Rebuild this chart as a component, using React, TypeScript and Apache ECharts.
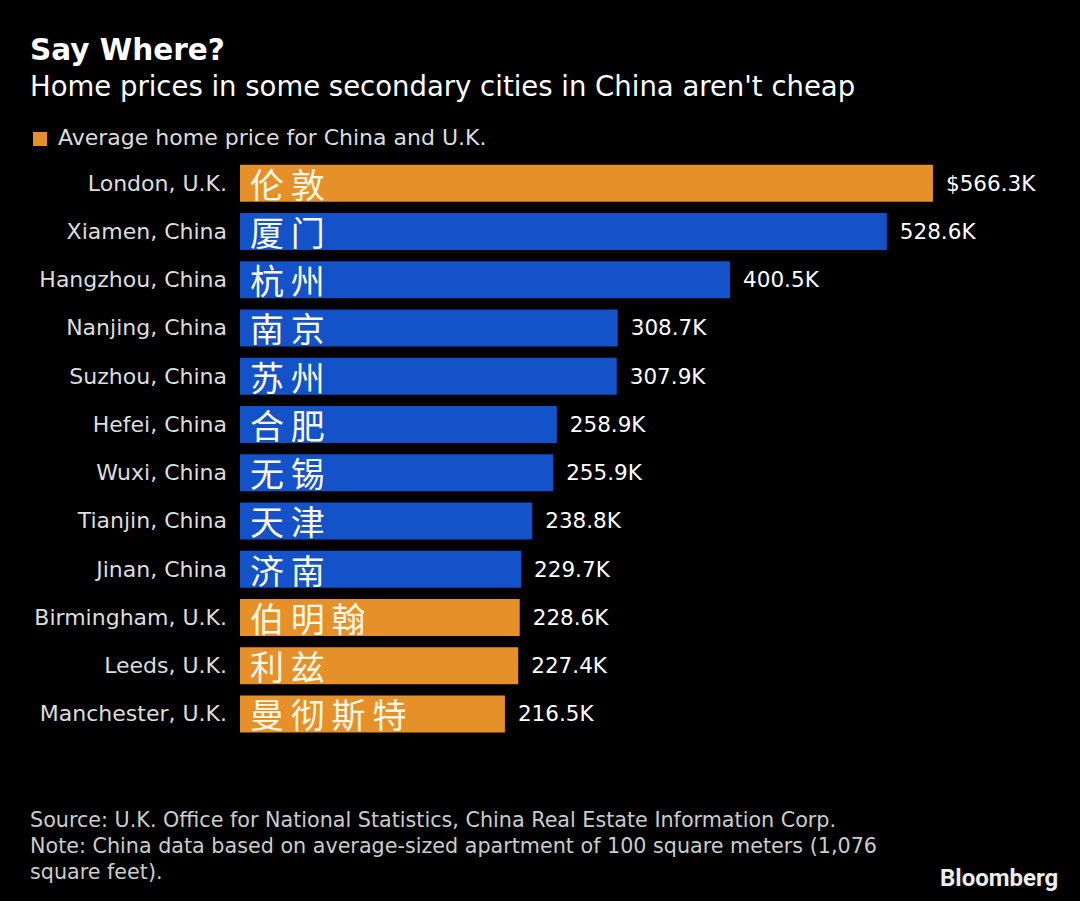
import React, { useEffect, useRef } from "react";
import * as echarts from "echarts";

const cities = [
  "London, U.K.",
  "Xiamen, China",
  "Hangzhou, China",
  "Nanjing, China",
  "Suzhou, China",
  "Hefei, China",
  "Wuxi, China",
  "Tianjin, China",
  "Jinan, China",
  "Birmingham, U.K.",
  "Leeds, U.K.",
  "Manchester, U.K.",
];
const chineseNames = ["伦敦", "厦门", "杭州", "南京", "苏州", "合肥", "无锡", "天津", "济南", "伯明翰", "利兹", "曼彻斯特"];
const prices = [566.3, 528.6, 400.5, 308.7, 307.9, 258.9, 255.9, 238.8, 229.7, 228.6, 227.4, 216.5];
const countries = ["UK", "CN", "CN", "CN", "CN", "CN", "CN", "CN", "CN", "UK", "UK", "UK"];

const ORANGE = "#E6902A";
const BLUE = "#1352C8";
const FONT = "'DejaVu Sans', sans-serif";

export default function App() {
  const ref = useRef<HTMLDivElement>(null);
  useEffect(() => {
    document.body.style.margin = "0";
    document.body.style.background = "#000";
    const chart = echarts.init(ref.current!, null, { renderer: "svg" });
    const option: any = {
      animation: false,
      backgroundColor: "#000000",
      grid: { left: 240, top: 159, width: 734.2, height: 579 },
      xAxis: {
        type: "value",
        min: 0,
        max: 600,
        show: false,
      },
      yAxis: {
        type: "category",
        data: cities,
        inverse: true,
        axisLine: { show: false },
        axisTick: { show: false },
        splitLine: { show: false },
        axisLabel: { color: "#dddddd", fontSize: 22, fontFamily: FONT, margin: 13 },
      },
      series: [
        {
          type: "bar",
          barWidth: 37,
          data: prices.map((v, i) => ({
            value: v,
            itemStyle: { color: countries[i] === "UK" ? ORANGE : BLUE },
          })),
          label: {
            show: true,
            position: "right",
            distance: 13,
            color: "#ffffff",
            fontSize: 21.5,
            fontFamily: FONT,
            formatter: (p: any) => (p.dataIndex === 0 ? "$" : "") + p.value.toFixed(1) + "K",
          },
        },
        {
          type: "bar",
          barWidth: 37,
          barGap: "-100%",
          silent: true,
          itemStyle: { color: "transparent" },
          data: prices,
          label: {
            show: true,
            position: "insideLeft",
            distance: 10,
            color: "#FFF8E6",
            fontSize: 34,
            fontFamily: "'Noto Sans CJK SC', sans-serif",
            formatter: (p: any) => chineseNames[p.dataIndex].split("").join("\u2009"),
          },
        },
      ],
      graphic: [
        {
          type: "text",
          left: 30,
          top: 35,
          style: { text: "Say Where?", fill: "#ffffff", font: "bold 29.5px " + FONT },
        },
        {
          type: "text",
          left: 30,
          top: 72,
          style: {
            text: "Home prices in some secondary cities in China aren't cheap",
            fill: "#ffffff",
            font: "27.5px " + FONT,
          },
        },
        {
          type: "rect",
          shape: { x: 33, y: 132, width: 14, height: 14 },
          style: { fill: ORANGE },
        },
        {
          type: "text",
          left: 58,
          top: 126,
          style: { text: "Average home price for China and U.K.", fill: "#dddddd", font: "22px " + FONT },
        },
        {
          type: "text",
          left: 30,
          top: 807,
          style: {
            text: "Source: U.K. Office for National Statistics, China Real Estate Information Corp.\nNote: China data based on average-sized apartment of 100 square meters (1,076\nsquare feet).",
            fill: "#cccccc",
            font: "20.7px " + FONT,
            lineHeight: 26,
          },
        },
        {
          type: "text",
          left: 940,
          top: 866,
          style: { text: "Bloomberg", fill: "#eeeeee", font: "bold 24px 'Liberation Sans Narrow', 'Roboto', sans-serif" },
        },
      ],
    };
    chart.setOption(option);
    return () => chart.dispose();
  }, []);
  return <div ref={ref} style={{ width: 1080, height: 901 }} />;
}
